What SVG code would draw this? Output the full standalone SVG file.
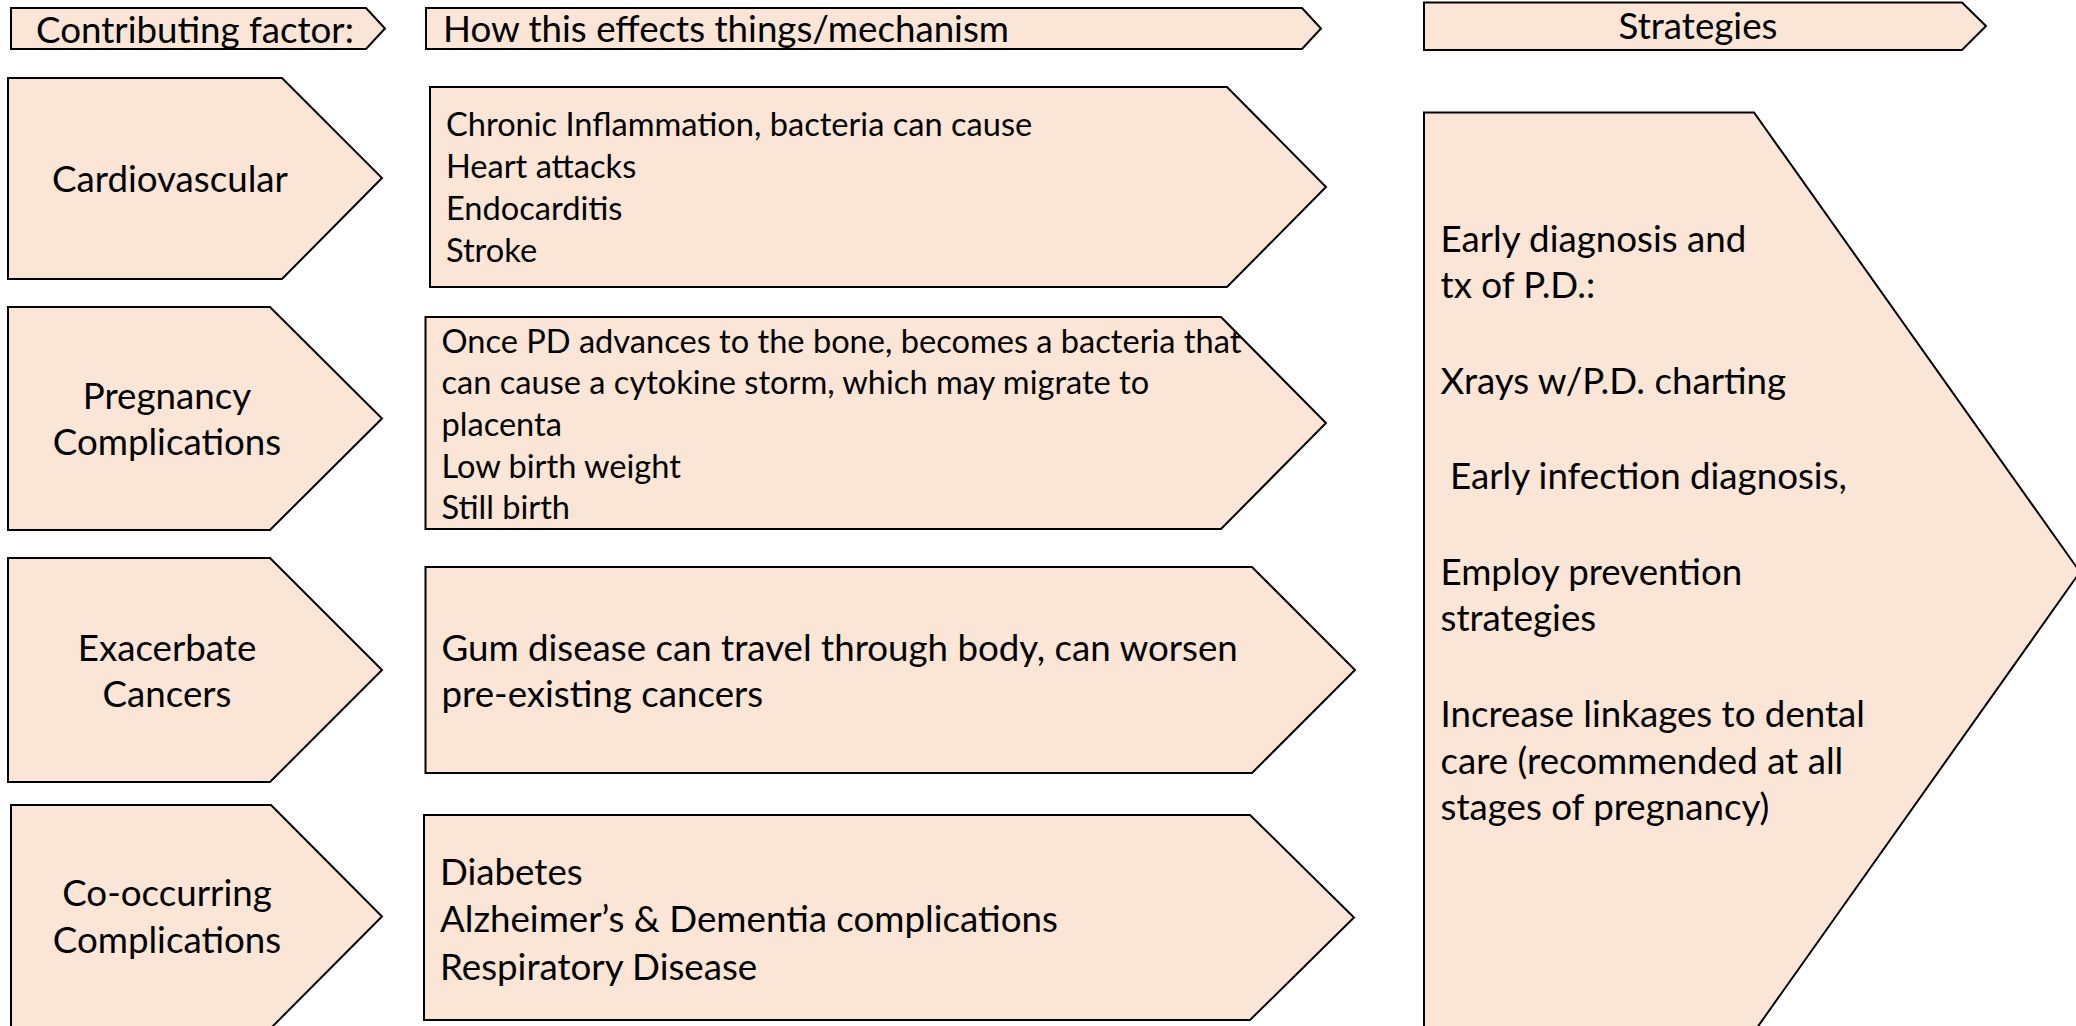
<svg xmlns="http://www.w3.org/2000/svg" width="2076" height="1026" viewBox="0 0 2076 1026">
<style>
.shape{fill:#FBE5D6;stroke:#000;stroke-width:2;stroke-linejoin:miter}
text{font-family:Lato,"Open Sans","Liberation Sans",sans-serif;fill:#000}
.big{font-size:36.7px}
.mid{font-size:32.6px}
.c{text-anchor:middle}
</style>
<rect width="2076" height="1026" fill="#fff"/>
<g id="header-factor">
<polygon class="shape" points="11,8 366,8 385,28.5 366,49 11,49"/>
<text class="big" x="36" y="43">Contributing factor:</text>
</g>
<g id="header-mechanism">
<polygon class="shape" points="426,8 1302,8 1321,28.5 1302,49 426,49"/>
<text class="big" x="443" y="42">How this effects things/mechanism</text>
</g>
<g id="header-strategies">
<polygon class="shape" points="1424,2.5 1962,2.5 1986,26 1962,50 1424,50"/>
<text class="big c" x="1698" y="39">Strategies</text>
</g>
<g id="factor-cardiovascular">
<polygon class="shape" points="8,78 282,78 382,178 282,279 8,279"/>
<text class="big c" x="170" y="191.5">Cardiovascular</text>
</g>
<g id="factor-pregnancy">
<polygon class="shape" points="8,307 270,307 382,418.5 270,530 8,530"/>
<text class="big c" x="167" y="409">Pregnancy</text>
<text class="big c" x="167" y="455">Complications</text>
</g>
<g id="factor-cancers">
<polygon class="shape" points="8,558 270,558 382,670 270,782 8,782"/>
<text class="big c" x="167" y="660.5">Exacerbate</text>
<text class="big c" x="167" y="707">Cancers</text>
</g>
<g id="factor-cooccurring">
<polygon class="shape" points="11,805 271,805 382,916.5 271,1028 11,1028"/>
<text class="big c" x="167" y="906">Co-occurring</text>
<text class="big c" x="167" y="953">Complications</text>
</g>
<g id="mechanism-cardiovascular">
<polygon class="shape" points="430,87 1227,87 1326,187 1227,287 430,287"/>
<text class="mid" x="446" y="135.5">Chronic Inflammation, bacteria can cause</text>
<text class="mid" x="446" y="177.5">Heart attacks</text>
<text class="mid" x="446" y="220">Endocarditis</text>
<text class="mid" x="446" y="262">Stroke</text>
</g>
<g id="mechanism-pregnancy">
<polygon class="shape" points="425.5,317 1221,317 1326,423 1221,529 425.5,529"/>
<text class="mid" x="441.5" y="352.5">Once PD advances to the bone, becomes a bacteria that</text>
<text class="mid" x="441.5" y="394">can cause a cytokine storm, which may migrate to</text>
<text class="mid" x="441.5" y="435.5">placenta</text>
<text class="mid" x="441.5" y="477.5">Low birth weight</text>
<text class="mid" x="441.5" y="519">Still birth</text>
</g>
<g id="mechanism-cancers">
<polygon class="shape" points="425.5,567 1252,567 1355,670 1252,773 425.5,773"/>
<text class="big" x="441.5" y="660.5">Gum disease can travel through body, can worsen</text>
<text class="big" x="441.5" y="706.5">pre-existing cancers</text>
</g>
<g id="mechanism-cooccurring">
<polygon class="shape" points="424,815 1250,815 1354,917.5 1250,1020 424,1020"/>
<text class="big" x="440" y="884.5">Diabetes</text>
<text class="big" x="440" y="932">Alzheimer’s &amp; Dementia complications</text>
<text class="big" x="440" y="979.5">Respiratory Disease</text>
</g>
<g id="strategies">
<polygon class="shape" points="1424,112.5 1754,112.5 2080,572 1754,1032 1424,1032"/>
<text class="big" x="1440.5" y="251.5">Early diagnosis and</text>
<text class="big" x="1440.5" y="297.5">tx of P.D.:</text>
<text class="big" x="1440.5" y="394">Xrays w/P.D. charting</text>
<text class="big" x="1450" y="488.5">Early infection diagnosis,</text>
<text class="big" x="1440.5" y="584.5">Employ prevention</text>
<text class="big" x="1440.5" y="631">strategies</text>
<text class="big" x="1440.5" y="727">Increase linkages to dental</text>
<text class="big" x="1440.5" y="773.5">care (recommended at all</text>
<text class="big" x="1440.5" y="820">stages of pregnancy)</text>
</g>
<g id="connectors"/>
</svg>
